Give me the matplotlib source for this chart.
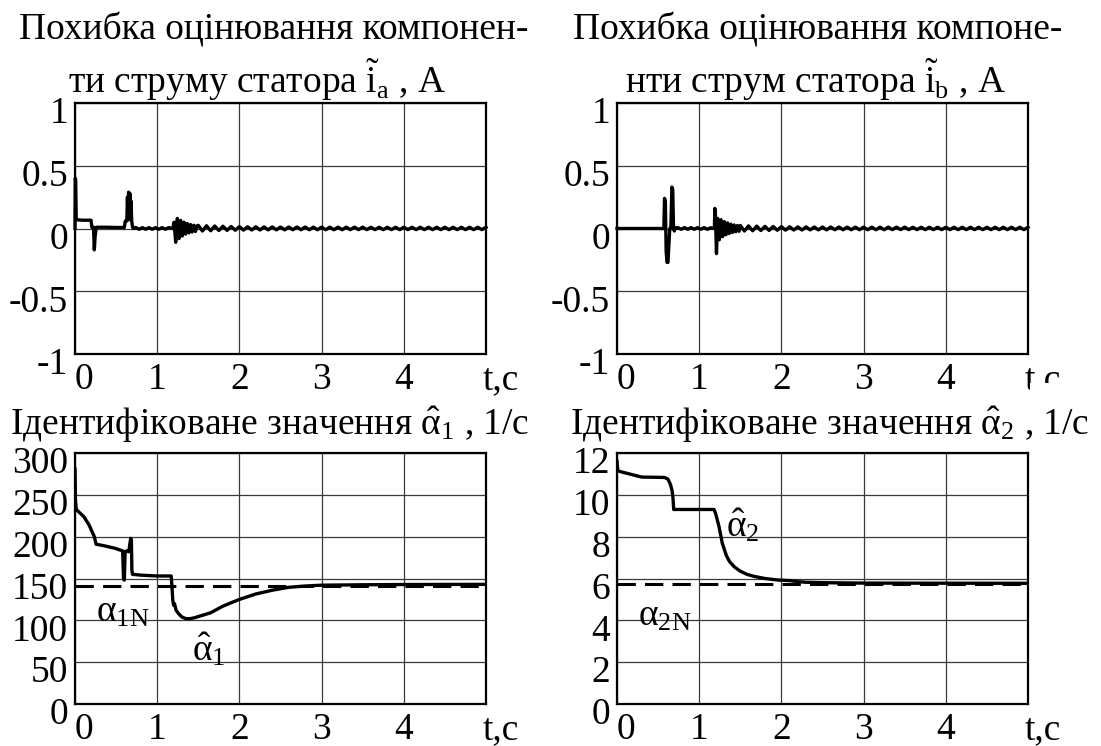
import matplotlib
matplotlib.use("Agg")
import matplotlib.pyplot as plt
import numpy as np
from matplotlib.transforms import ScaledTranslation
from matplotlib.patches import Rectangle

plt.rcParams['font.family'] = ['Liberation Serif', 'DejaVu Serif']
plt.rcParams['mathtext.fontset'] = 'custom'
plt.rcParams['mathtext.rm'] = 'Liberation Serif'
plt.rcParams['mathtext.it'] = 'Liberation Serif:italic'
plt.rcParams['mathtext.bf'] = 'Liberation Serif:bold'

# ---------------- data ----------------
x_ticks = [0, 1, 2, 3, 4]
x_labels = ['0', '1', '2', '3', '4']
x_unit = 't,с'

yt_top = [-1, -0.5, 0, 0.5, 1]
yl_top = ['-1', '-0.5', '0', '0.5', '1']
yt_a1 = [0, 50, 100, 150, 200, 250, 300]
yl_a1 = ['0', '50', '100', '150', '200', '250', '300']
yt_a2 = [0, 2, 4, 6, 8, 10, 12]
yl_a2 = ['0', '2', '4', '6', '8', '10', '12']

title_ia = ["Похибка оцінювання компонен-",
            r"ти струму статора $\tilde{\mathrm{i}}_{\mathrm{a}}$ , А"]
title_ib = ["Похибка оцінювання компоне-",
            r"нти струм статора $\tilde{\mathrm{i}}_{\mathrm{b}}$ , А"]
title_a1 = r"Ідентифіковане значення $\hat{\mathrm{\alpha}}_1$ , 1/с"
title_a2 = r"Ідентифіковане значення $\hat{\mathrm{\alpha}}_2$ , 1/с"

# stator current a error
ia_t_head = [0.0, 0.003, 0.008, 0.015, 0.05, 0.10, 0.15, 0.195, 0.205, 0.225,
             0.235, 0.245, 0.26, 0.30, 0.40, 0.50, 0.60, 0.612, 0.63, 0.638,
             0.645, 0.652, 0.66, 0.667, 0.674, 0.681, 0.69, 0.70, 0.715]
ia_v_head = [0.0, 0.40, 0.39, 0.07, 0.068, 0.066, 0.066, 0.066, 0.01, 0.01,
             -0.17, -0.06, 0.01, 0.01, 0.01, 0.008, 0.008, 0.06, 0.06, 0.25,
             0.07, 0.29, 0.08, 0.28, 0.07, 0.22, 0.06, 0.01, 0.0]
mid_t = [0.74, 0.78, 0.82, 0.86, 0.90, 0.94, 0.98, 1.02, 1.06, 1.10, 1.14]
ia_v_mid = [0.008, -0.006, 0.007, -0.006, 0.007, -0.006, 0.007, -0.006, 0.007, -0.006, 0.007]
ia_t_osc = [1.19, 1.205, 1.225, 1.245, 1.265, 1.285, 1.305, 1.325, 1.345, 1.365,
            1.385, 1.405, 1.425, 1.445, 1.465, 1.485]
ia_v_osc = [0.0, 0.05, -0.11, 0.08, -0.08, 0.065, -0.06, 0.05, -0.045, 0.04,
            -0.035, 0.032, -0.028, 0.026, -0.024, 0.022]
tail_t = np.round(np.arange(1.50, 5.001, 0.05), 3)
ia_v_tail = [0.025, -0.02, 0.022, -0.018, 0.02, -0.016, 0.018, -0.015, 0.016, -0.014,
             0.015, -0.013, 0.014, -0.012, 0.014, -0.012, 0.013, -0.011, 0.013, -0.011,
             0.012, -0.011, 0.012, -0.010, 0.012, -0.010, 0.012, -0.010, 0.011, -0.010,
             0.011, -0.010, 0.011, -0.010, 0.011, -0.010, 0.011, -0.009, 0.011, -0.009,
             0.011, -0.009, 0.010, -0.009, 0.010, -0.009, 0.010, -0.009, 0.010, -0.009,
             0.010, -0.009, 0.010, -0.009, 0.010, -0.009, 0.010, -0.009, 0.010, -0.009,
             0.010, -0.009, 0.010, -0.009, 0.010, -0.009, 0.010, -0.009, 0.010, -0.009,
             0.010]

# stator current b error
ib_t_head = [0.0, 0.57, 0.578, 0.588, 0.598, 0.608, 0.62, 0.632, 0.642, 0.655,
             0.668, 0.678, 0.688, 0.697, 0.71, 0.72]
ib_v_head = [0.0, 0.0, 0.24, 0.22, -0.18, -0.27, -0.27, -0.12, 0.0, 0.0,
             0.33, 0.31, 0.0, -0.02, 0.005, 0.0]
ib_v_mid = [0.007, -0.006, 0.007, -0.006, 0.007, -0.006, 0.007, -0.006, 0.007, -0.006, 0.006]
ib_t_osc = [1.185, 1.19, 1.198, 1.21, 1.225, 1.245, 1.265, 1.285, 1.305, 1.325,
            1.345, 1.365, 1.385, 1.405, 1.425, 1.445, 1.465, 1.485]
ib_v_osc = [0.0, 0.16, 0.10, -0.20, 0.08, -0.09, 0.07, -0.065, 0.055, -0.05,
            0.045, -0.04, 0.035, -0.032, 0.028, -0.026, 0.024, -0.022]
ib_v_tail = [0.024, -0.02, 0.021, -0.018, 0.019, -0.016, 0.017, -0.015, 0.016, -0.014,
             0.015, -0.013, 0.014, -0.012, 0.013, -0.012, 0.013, -0.011, 0.012, -0.011,
             0.012, -0.011, 0.012, -0.010, 0.012, -0.010, 0.011, -0.010, 0.011, -0.010,
             0.011, -0.010, 0.011, -0.010, 0.011, -0.010, 0.011, -0.009, 0.011, -0.009,
             0.011, -0.009, 0.010, -0.009, 0.010, -0.009, 0.010, -0.009, 0.010, -0.009,
             0.010, -0.009, 0.010, -0.009, 0.010, -0.009, 0.010, -0.009, 0.010, -0.009,
             0.010, -0.009, 0.010, -0.009, 0.010, -0.009, 0.010, -0.009, 0.010, -0.009,
             0.010]

# identified alpha_1
a1_t = [0.0, 0.006, 0.015, 0.03, 0.107, 0.171, 0.235, 0.256, 0.36, 0.49,
        0.58, 0.59, 0.60, 0.61, 0.625, 0.655, 0.668, 0.678, 0.686, 0.692,
        0.70, 0.80, 1.00, 1.17, 1.18, 1.19, 1.20, 1.21, 1.23, 1.26,
        1.30, 1.35, 1.40, 1.45, 1.55, 1.65, 1.80, 2.00, 2.20, 2.40,
        2.60, 2.80, 3.00, 3.50, 4.00, 5.00]
a1_v = [281, 243, 233, 231, 224, 214, 200, 191, 189, 186,
        183, 150, 148, 182, 183, 182, 192, 198, 196, 160,
        155, 154, 153, 153, 140, 124, 118, 120, 112, 108,
        104, 102, 102, 103, 106, 109, 117, 125, 131.5, 136,
        139.5, 141, 142, 142.5, 142.8, 143]
a1_nom = 141.5

# identified alpha_2
a2_t = [0.0, 0.01, 0.05, 0.15, 0.25, 0.30, 0.45, 0.58, 0.62, 0.65,
        0.67, 0.68, 0.69, 0.75, 1.00, 1.18, 1.20, 1.24, 1.28, 1.33,
        1.37, 1.43, 1.50, 1.58, 1.67, 1.80, 1.95, 2.10, 2.20, 2.30,
        2.50, 3.00, 5.00]
a2_v = [11.6, 11.15, 11.1, 11.0, 10.9, 10.85, 10.84, 10.83, 10.75, 10.5,
        10.2, 9.9, 9.3, 9.3, 9.3, 9.3, 9.1, 8.5, 7.7, 7.1,
        6.8, 6.55, 6.35, 6.2, 6.1, 6.0, 5.93, 5.9, 5.85, 5.82,
        5.8, 5.78, 5.77]
a2_nom = 5.75

# ---------------- figure ----------------
W, H = 1101, 746
fig = plt.figure(figsize=(W / 100, H / 100), dpi=100)
FS = 27


def rect(x0, y0, x1, y1):
    return [x0 / W, 1 - y1 / H, (x1 - x0) / W, (y1 - y0) / H]


ax1 = fig.add_axes(rect(75, 103, 486, 354))
ax2 = fig.add_axes(rect(617, 103, 1028, 354))
ax3 = fig.add_axes(rect(75, 453, 486, 704))
ax4 = fig.add_axes(rect(617, 453, 1028, 704))


def style(ax, yt, yl):
    ax.set_xlim(0, 5)
    ax.set_ylim(yt[0], yt[-1])
    ax.set_xticks(x_ticks)
    ax.set_xticklabels(x_labels, fontsize=FS)
    ax.set_yticks(yt)
    ax.set_yticklabels(yl, fontsize=FS)
    ax.tick_params(length=0, pad=5)
    ax.tick_params(axis='x', pad=6)
    ax.grid(True, color='#3a3a3a', lw=0.9)
    ax.set_axisbelow(True)
    for s in ax.spines.values():
        s.set_linewidth(1.6)
    off = ScaledTranslation(0, -7 / 100, fig.dpi_scale_trans)
    for lbl in ax.get_yticklabels():
        lbl.set_transform(lbl.get_transform() + off)
    xl = ax.get_xticklabels()
    xl[0].set_transform(xl[0].get_transform() + ScaledTranslation(9 / 100, 0, fig.dpi_scale_trans))
    ax.annotate(x_unit, xy=(5.18, 0), xycoords=('data', 'axes fraction'),
                xytext=(0, -6), textcoords='offset points', ha='center', va='top',
                fontsize=FS, annotation_clip=False)


style(ax1, yt_top, yl_top)
style(ax2, yt_top, yl_top)
style(ax3, yt_a1, yl_a1)
style(ax4, yt_a2, yl_a2)

LW = 2.4
ia_t = list(ia_t_head) + mid_t + ia_t_osc + list(tail_t)
ia_v = ia_v_head + ia_v_mid + ia_v_osc + ia_v_tail
ax1.plot(ia_t, ia_v, color='k', lw=LW, clip_on=False)
ib_t = list(ib_t_head) + mid_t + ib_t_osc + list(tail_t)
ib_v = ib_v_head + ib_v_mid + ib_v_osc + ib_v_tail
ax2.plot(ib_t, ib_v, color='k', lw=LW, clip_on=False)

ax3.plot(a1_t, a1_v, color='k', lw=LW)
ax3.axhline(a1_nom, color='k', lw=2.2, ls=(0, (6, 3)))
ax3.text(0.25, 109, r"$\mathrm{\alpha}_{1\mathrm{N}}$", fontsize=FS, ha='left', va='center')
ax3.text(1.42, 65, r"$\hat{\mathrm{\alpha}}_1$", fontsize=FS, ha='left', va='center')

ax4.plot(a2_t, a2_v, color='k', lw=LW)
ax4.axhline(a2_nom, color='k', lw=2.2, ls=(0, (6, 3)))
ax4.text(0.26, 4.2, r"$\mathrm{\alpha}_{2\mathrm{N}}$", fontsize=FS, ha='left', va='center')
ax4.text(1.32, 8.5, r"$\hat{\mathrm{\alpha}}_2$", fontsize=FS, ha='left', va='center')

# titles
fig.text(274 / W, 1 - 30 / H, title_ia[0], ha='center', va='center', fontsize=FS)
fig.text(257 / W, 1 - 80 / H, title_ia[1], ha='center', va='center', fontsize=FS)
fig.text(818 / W, 1 - 30 / H, title_ib[0], ha='center', va='center', fontsize=FS)
fig.text(815 / W, 1 - 80 / H, title_ib[1], ha='center', va='center', fontsize=FS)
fig.text(270 / W, 1 - 425 / H, title_a1, ha='center', va='center', fontsize=FS)
fig.text(830 / W, 1 - 425 / H, title_a2, ha='center', va='center', fontsize=FS)

# the reference crops away the lower half of the upper-right "t,с" unit label
fig.patches.append(Rectangle((1030 / W, 1 - 400 / H), 71 / W, 17 / H,
                             transform=fig.transFigure, facecolor='white',
                             edgecolor='none', zorder=10))

fig.savefig("out.png", dpi=100)
